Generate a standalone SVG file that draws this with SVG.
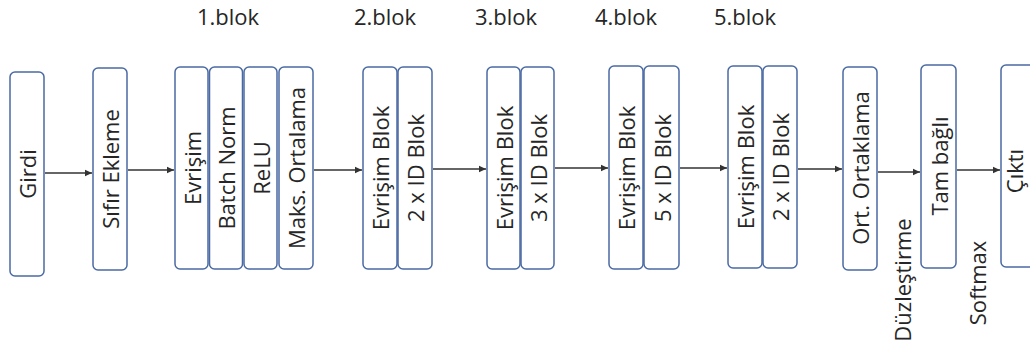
<svg xmlns="http://www.w3.org/2000/svg" width="1030" height="351" viewBox="0 0 1030 351">
<style>
.box{fill:#ffffff;stroke:#4a6aa3;stroke-width:1.5}
.t{font-family:"Open Sans","Liberation Sans",sans-serif;font-size:22px;fill:#262626;text-anchor:middle;dominant-baseline:central}
.lbl{font-family:"Open Sans","Liberation Sans",sans-serif;font-size:22px;fill:#262626;text-anchor:middle}
.c{stroke:#333333;stroke-width:1.4;fill:none;marker-end:url(#ah)}
</style>
<defs>
<marker id="ah" markerUnits="userSpaceOnUse" markerWidth="8" markerHeight="8" refX="7" refY="4" orient="auto">
<path d="M0,0.8 L7,4 L0,7.2 Z" fill="#333333"/>
</marker>
</defs>
<rect width="1030" height="351" fill="#ffffff"/>
<g id="labels">
<text class="lbl" x="228" y="25">1.blok</text>
<text class="lbl" x="385" y="25">2.blok</text>
<text class="lbl" x="506" y="25">3.blok</text>
<text class="lbl" x="626" y="25">4.blok</text>
<text class="lbl" x="745" y="25">5.blok</text>
</g>
<g id="connectors">
<line class="c" x1="45" y1="173" x2="92" y2="173"/>
<line class="c" x1="128" y1="170" x2="174" y2="170"/>
<line class="c" x1="314" y1="170" x2="362" y2="170"/>
<line class="c" x1="433" y1="169" x2="486" y2="169"/>
<line class="c" x1="555" y1="168" x2="608" y2="168"/>
<line class="c" x1="680" y1="168" x2="727" y2="168"/>
<line class="c" x1="798" y1="169" x2="842" y2="169"/>
<line class="c" x1="878" y1="172" x2="920" y2="172"/>
<line class="c" x1="957" y1="170" x2="1000" y2="170"/>
</g>
<g id="girdi"><rect class="box" x="10" y="72" width="34" height="204" rx="5"/><text class="t" transform="translate(27,174) rotate(-90)">Girdi</text></g>
<g id="sifir"><rect class="box" x="93" y="68" width="34" height="202" rx="5"/><text class="t" transform="translate(110,169) rotate(-90)">Sıfır Ekleme</text></g>
<g id="b1-evrisim"><rect class="box" x="175" y="67" width="33" height="202" rx="5"/><text class="t" transform="translate(191.5,168) rotate(-90)">Evrişim</text></g>
<g id="b1-bn"><rect class="box" x="209.5" y="67" width="33" height="202" rx="5"/><text class="t" transform="translate(226,168) rotate(-90)">Batch Norm</text></g>
<g id="b1-relu"><rect class="box" x="244" y="67" width="33" height="202" rx="5"/><text class="t" transform="translate(260.5,168) rotate(-90)">ReLU</text></g>
<g id="b1-maks"><rect class="box" x="279" y="67" width="34" height="202" rx="5"/><text class="t" transform="translate(296,168) rotate(-90)">Maks. Ortalama</text></g>
<g id="b2-evrisim"><rect class="box" x="363" y="67" width="34" height="202" rx="5"/><text class="t" transform="translate(380,168) rotate(-90)">Evrişim Blok</text></g>
<g id="b2-id"><rect class="box" x="398" y="67" width="34" height="202" rx="5"/><text class="t" transform="translate(415,168) rotate(-90)">2 x ID Blok</text></g>
<g id="b3-evrisim"><rect class="box" x="487" y="67" width="33" height="202" rx="5"/><text class="t" transform="translate(503.5,168) rotate(-90)">Evrişim Blok</text></g>
<g id="b3-id"><rect class="box" x="521" y="67" width="33" height="202" rx="5"/><text class="t" transform="translate(537.5,168) rotate(-90)">3 x ID Blok</text></g>
<g id="b4-evrisim"><rect class="box" x="609" y="66" width="34" height="203" rx="5"/><text class="t" transform="translate(626,168) rotate(-90)">Evrişim Blok</text></g>
<g id="b4-id"><rect class="box" x="644" y="66" width="35" height="203" rx="5"/><text class="t" transform="translate(661.5,168) rotate(-90)">5 x ID Blok</text></g>
<g id="b5-evrisim"><rect class="box" x="728" y="66" width="34" height="202" rx="5"/><text class="t" transform="translate(745,167) rotate(-90)">Evrişim Blok</text></g>
<g id="b5-id"><rect class="box" x="763" y="66" width="34" height="202" rx="5"/><text class="t" transform="translate(780,167) rotate(-90)">2 x ID Blok</text></g>
<g id="ort"><rect class="box" x="843" y="67" width="34" height="203" rx="5"/><text class="t" transform="translate(860,168) rotate(-90)">Ort. Ortaklama</text></g>
<g id="tam"><rect class="box" x="921" y="65" width="35" height="203" rx="5"/><text class="t" transform="translate(938.5,166) rotate(-90)">Tam bağlı</text></g>
<g id="cikti"><rect class="box" x="1001" y="65" width="36" height="202" rx="5"/><text class="t" transform="translate(1014,171) rotate(-90)">Çıktı</text></g>
<g id="edge-labels">
<text class="t" transform="translate(902,280) rotate(-90)">Düzleştirme</text>
<text class="t" transform="translate(977,283) rotate(-90)">Softmax</text>
</g>
</svg>
